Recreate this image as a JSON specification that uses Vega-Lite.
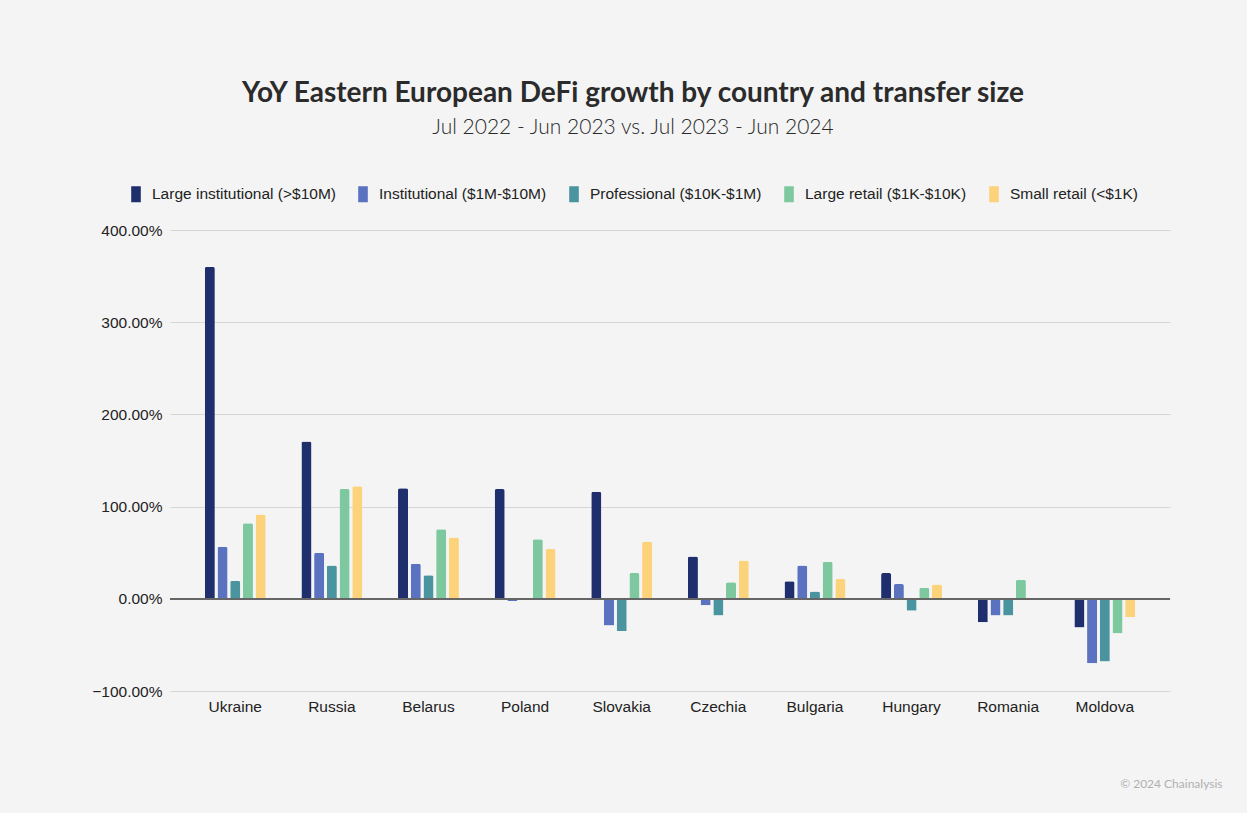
{
  "$schema": "https://vega.github.io/schema/vega-lite/v6.json",
  "width": 1000,
  "height": 461,
  "autosize": {"type": "none"},
  "padding": {"left": 170, "top": 230, "right": 77, "bottom": 122},
  "background": "#f4f4f4",
  "title": {
    "text": "YoY Eastern European DeFi growth by country and transfer size",
    "subtitle": "Jul 2022 - Jun 2023 vs. Jul 2023 - Jun 2024",
    "anchor": "middle",
    "frame": "group",
    "dx": -37,
    "offset": 48,
    "font": "Lato",
    "fontSize": 28,
    "fontWeight": "bold",
    "color": "#2b2b2b",
    "subtitleFont": "Lato",
    "subtitleFontSize": 21,
    "subtitleFontWeight": 300,
    "subtitleColor": "#2b2b2b",
    "subtitlePadding": 9
  },
  "config": {
    "view": {"stroke": null},
    "axis": {"labelFont": "Liberation Sans", "titleFont": "Lato"},
    "legend": {"labelFont": "Liberation Sans"}
  },
  "data": {
    "values": [
      {"country": "Ukraine", "size": "Large institutional (>$10M)", "growth": 360},
      {"country": "Ukraine", "size": "Institutional ($1M-$10M)", "growth": 56.5},
      {"country": "Ukraine", "size": "Professional ($10K-$1M)", "growth": 19.5},
      {"country": "Ukraine", "size": "Large retail ($1K-$10K)", "growth": 82},
      {"country": "Ukraine", "size": "Small retail (<$1K)", "growth": 91.5},
      {"country": "Russia", "size": "Large institutional (>$10M)", "growth": 170.5},
      {"country": "Russia", "size": "Institutional ($1M-$10M)", "growth": 50},
      {"country": "Russia", "size": "Professional ($10K-$1M)", "growth": 36},
      {"country": "Russia", "size": "Large retail ($1K-$10K)", "growth": 119},
      {"country": "Russia", "size": "Small retail (<$1K)", "growth": 122},
      {"country": "Belarus", "size": "Large institutional (>$10M)", "growth": 120},
      {"country": "Belarus", "size": "Institutional ($1M-$10M)", "growth": 38},
      {"country": "Belarus", "size": "Professional ($10K-$1M)", "growth": 25.5},
      {"country": "Belarus", "size": "Large retail ($1K-$10K)", "growth": 75.5},
      {"country": "Belarus", "size": "Small retail (<$1K)", "growth": 66.5},
      {"country": "Poland", "size": "Large institutional (>$10M)", "growth": 119},
      {"country": "Poland", "size": "Institutional ($1M-$10M)", "growth": -2.5},
      {"country": "Poland", "size": "Professional ($10K-$1M)", "growth": -1},
      {"country": "Poland", "size": "Large retail ($1K-$10K)", "growth": 64.5},
      {"country": "Poland", "size": "Small retail (<$1K)", "growth": 54},
      {"country": "Slovakia", "size": "Large institutional (>$10M)", "growth": 116},
      {"country": "Slovakia", "size": "Institutional ($1M-$10M)", "growth": -29},
      {"country": "Slovakia", "size": "Professional ($10K-$1M)", "growth": -35},
      {"country": "Slovakia", "size": "Large retail ($1K-$10K)", "growth": 28},
      {"country": "Slovakia", "size": "Small retail (<$1K)", "growth": 62},
      {"country": "Czechia", "size": "Large institutional (>$10M)", "growth": 46},
      {"country": "Czechia", "size": "Institutional ($1M-$10M)", "growth": -7},
      {"country": "Czechia", "size": "Professional ($10K-$1M)", "growth": -18},
      {"country": "Czechia", "size": "Large retail ($1K-$10K)", "growth": 18},
      {"country": "Czechia", "size": "Small retail (<$1K)", "growth": 41.5},
      {"country": "Bulgaria", "size": "Large institutional (>$10M)", "growth": 19},
      {"country": "Bulgaria", "size": "Institutional ($1M-$10M)", "growth": 36},
      {"country": "Bulgaria", "size": "Professional ($10K-$1M)", "growth": 8},
      {"country": "Bulgaria", "size": "Large retail ($1K-$10K)", "growth": 40},
      {"country": "Bulgaria", "size": "Small retail (<$1K)", "growth": 21.5},
      {"country": "Hungary", "size": "Large institutional (>$10M)", "growth": 28},
      {"country": "Hungary", "size": "Institutional ($1M-$10M)", "growth": 16},
      {"country": "Hungary", "size": "Professional ($10K-$1M)", "growth": -13},
      {"country": "Hungary", "size": "Large retail ($1K-$10K)", "growth": 12},
      {"country": "Hungary", "size": "Small retail (<$1K)", "growth": 15.5},
      {"country": "Romania", "size": "Large institutional (>$10M)", "growth": -25.5},
      {"country": "Romania", "size": "Institutional ($1M-$10M)", "growth": -18},
      {"country": "Romania", "size": "Professional ($10K-$1M)", "growth": -18},
      {"country": "Romania", "size": "Large retail ($1K-$10K)", "growth": 20.5},
      {"country": "Romania", "size": "Small retail (<$1K)", "growth": 1},
      {"country": "Moldova", "size": "Large institutional (>$10M)", "growth": -31},
      {"country": "Moldova", "size": "Institutional ($1M-$10M)", "growth": -70},
      {"country": "Moldova", "size": "Professional ($10K-$1M)", "growth": -68},
      {"country": "Moldova", "size": "Large retail ($1K-$10K)", "growth": -37.5},
      {"country": "Moldova", "size": "Small retail (<$1K)", "growth": -20}
    ]
  },
  "layer": [
    {
      "mark": {"type": "bar", "cornerRadiusEnd": 2},
      "encoding": {
        "x": {
          "field": "country",
          "type": "nominal",
          "sort": null,
          "scale": {"paddingInner": 0.37, "paddingOuter": 0.36},
          "axis": {
            "title": "© 2024 Chainalysis",
            "titleFont": "Lato",
            "titleFontSize": 12,
            "titleFontWeight": "normal",
            "titleColor": "#b0b0b0",
            "titleAnchor": "end",
            "titleAlign": "right",
            "titleBaseline": "middle",
            "titleX": 1052,
            "titleY": 92,
            "labelAngle": 0,
            "labelFontSize": 15.5,
            "labelColor": "#222222",
            "labelPadding": 8,
            "domain": false,
            "ticks": false
          }
        },
        "xOffset": {
          "field": "size",
          "type": "nominal",
          "sort": [
            "Large institutional (>$10M)",
            "Institutional ($1M-$10M)",
            "Professional ($10K-$1M)",
            "Large retail ($1K-$10K)",
            "Small retail (<$1K)"
          ],
          "scale": {"paddingInner": 0.21}
        },
        "y": {
          "field": "growth",
          "type": "quantitative",
          "scale": {"domain": [-100, 400], "nice": false},
          "axis": {
            "title": null,
            "values": [-100, 0, 100, 200, 300, 400],
            "labelExpr": "format(datum.value, '.2f') + '%'",
            "labelFontSize": 15.5,
            "labelColor": "#222222",
            "labelPadding": 8,
            "domain": false,
            "ticks": false,
            "gridColor": "#d6d6d6",
            "gridWidth": 1
          }
        },
        "color": {
          "field": "size",
          "type": "nominal",
          "sort": [
            "Large institutional (>$10M)",
            "Institutional ($1M-$10M)",
            "Professional ($10K-$1M)",
            "Large retail ($1K-$10K)",
            "Small retail (<$1K)"
          ],
          "scale": {
            "range": ["#1f2f6e", "#5a72bf", "#4a94a0", "#7ec89f", "#fcd27b"]
          },
          "legend": {
            "title": null,
            "orient": "none",
            "direction": "horizontal",
            "legendX": -42,
            "legendY": -44,
            "symbolType": "M-0.6,-1H0.6V1H-0.6Z",
            "symbolSize": 256,
            "symbolStrokeWidth": 0,
            "symbolOpacity": 1,
            "labelFontSize": 15.5,
            "labelColor": "#222222",
            "labelOffset": 8,
            "labelLimit": 400,
            "columnPadding": 19
          }
        }
      }
    },
    {
      "mark": {"type": "rule", "color": "#666666", "strokeWidth": 1.5},
      "encoding": {"y": {"datum": 0}}
    }
  ]
}
